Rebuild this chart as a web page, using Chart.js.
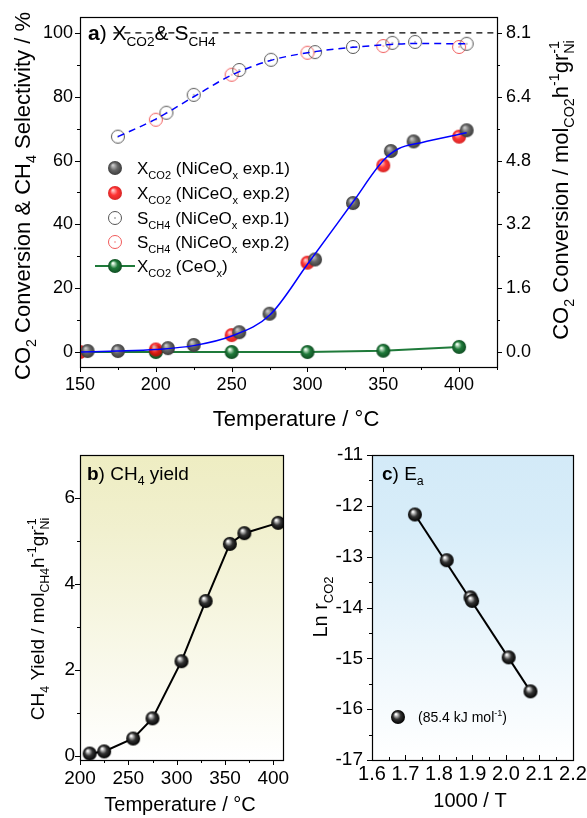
<!DOCTYPE html>
<html>
<head>
<meta charset="utf-8">
<script src="https://cdn.jsdelivr.net/npm/chart.js@4/dist/chart.umd.min.js"></script>
<style>
html, body { margin: 0; padding: 0; background: #fff; }
#wrap { position: relative; width: 587px; height: 818px; }
canvas { position: absolute; }
</style>
</head>
<body>
<div id="wrap">
  <canvas id="chartA" width="587" height="430" style="left:0;top:0"></canvas>
  <canvas id="chartB" width="293" height="388" style="left:0;top:430px"></canvas>
  <canvas id="chartC" width="294" height="388" style="left:293px;top:430px"></canvas>
</div>
<script>
// --- panel a : conversion & selectivity vs temperature
const tempX1 = [155, 175, 208, 225, 255, 275, 305, 330, 355, 370, 405];
const convX1 = [0.3, 0.3, 1.2, 2.2, 6.2, 12, 29, 46.7, 63, 66, 69.5];
const tempX2 = [150, 200, 250, 300, 350, 400];
const convX2 = [0, 0.8, 5.3, 28, 58.5, 67.5];
const tempS1 = [175, 207, 225, 255, 276, 305, 330, 356, 371, 405];
const selS1 = [67.5, 75, 80.6, 88.4, 91.6, 94, 95.6, 96.9, 97.2, 96.6];
const tempS2 = [200, 250, 300, 350, 400];
const selS2 = [72.8, 86.9, 93.8, 95.9, 95.6];
const tempCe = [150, 200, 250, 300, 350, 400];
const convCe = [0, 0, 0, 0, 0.4, 1.6];
const fitXT = [150, 175, 200, 225, 250, 275, 300, 330, 350, 360, 375, 405];
const fitXV = [0, 0.3, 0.8, 2, 5, 11.5, 27.5, 47, 60, 63.7, 65.6, 68.7];
const fitST = [175, 200, 225, 250, 275, 300, 330, 355, 370, 405];
const fitSV = [67.5, 73, 80, 86.8, 91.3, 93.8, 95.5, 96.4, 96.7, 96.6];
const refT = [172, 425];
const refV = [100, 100];
const aXTicks = [150, 200, 250, 300, 350, 400];
const aXMinor = [175, 225, 275, 325, 375, 425];
const aYTicks = [0, 20, 40, 60, 80, 100];
const aYMinor = [10, 30, 50, 70, 90];
const aRightLabels = ['0.0', '1.6', '3.2', '4.8', '6.4', '8.1'];

// --- panel b : CH4 yield
const tempY = [210, 225, 255, 275, 305, 330, 355, 370, 405];
const yieldCH4 = [0.05, 0.1, 0.4, 0.87, 2.2, 3.6, 4.93, 5.18, 5.42];
const bXTicks = [200, 250, 300, 350, 400];
const bXMinor = [225, 275, 325, 375];
const bYTicks = [0, 2, 4, 6];
const bYMinor = [1, 3, 5];

// --- panel c : Arrhenius plot
const invT = [1.728, 1.823, 1.894, 1.899, 2.008, 2.073];
const lnR = [-12.17, -13.07, -13.8, -13.87, -14.98, -15.65];
const fitInvT = [1.728, 2.073];
const fitLnR = [-12.17, -15.65];
const cXTicks = [1.6, 1.7, 1.8, 1.9, 2.0, 2.1, 2.2];
const cXMinor = [1.65, 1.75, 1.85, 1.95, 2.05, 2.15];
const cYTicks = [-17, -16, -15, -14, -13, -12, -11];
const cYMinor = [-16.5, -15.5, -14.5, -13.5, -12.5, -11.5];

const FONT = '"Liberation Sans", Arial, sans-serif';
const xy = (xs, ys) => xs.map((x, i) => ({ x, y: ys[i] }));

// shaded ball markers
function sphere(r, hi, mid, edge, alpha) {
  const c = document.createElement('canvas');
  c.width = c.height = 2 * r + 2;
  const g = c.getContext('2d'), m = r + 1;
  const grad = g.createRadialGradient(m - r * 0.3, m - r * 0.4, r * 0.08, m, m, r);
  grad.addColorStop(0, hi);
  grad.addColorStop(0.5, mid);
  grad.addColorStop(1, edge);
  g.globalAlpha = alpha || 1;
  g.fillStyle = grad;
  g.beginPath(); g.arc(m, m, r, 0, Math.PI * 2); g.fill();
  return c;
}
function ring(r, color) {
  const c = document.createElement('canvas');
  c.width = c.height = 2 * r + 2;
  const g = c.getContext('2d'), m = r + 1;
  g.strokeStyle = color; g.lineWidth = 1;
  g.beginPath(); g.arc(m, m, r - 0.5, 0, Math.PI * 2); g.stroke();
  g.fillStyle = color;
  g.beginPath(); g.arc(m, m, 0.7, 0, Math.PI * 2); g.fill();
  return c;
}
const grayBall = sphere(7, '#c8c8c8', '#666', '#3c3c3c');
const redBall = sphere(7, '#ffc0c0', '#ff1010', '#d00000', 0.85);
const greenBall = sphere(7, '#f0fff0', '#1f7a3a', '#0f4d22');
const blackBall = sphere(7, '#ffffff', '#333', '#000');
const blackBallC = sphere(7, '#ffffff', '#333', '#000');
const grayRing = ring(7, '#555');
const redRing = ring(7, '#f05a5a');

// text with sub / superscripts
function setFont(ctx, size, bold) { ctx.font = (bold ? 'bold ' : '') + size + 'px ' + FONT; }
function partWidth(ctx, p, size) {
  const small = size * 0.65;
  if (p[1] === 'ss') {
    setFont(ctx, small);
    return Math.max(ctx.measureText(p[0][0]).width, ctx.measureText(p[0][1]).width);
  }
  setFont(ctx, (p[1] === 'sub' || p[1] === 'sup') ? small : size, p[1] === 'b');
  return ctx.measureText(p[0]).width;
}
function drawRich(ctx, parts, x, y, size, align) {
  ctx.save();
  ctx.fillStyle = '#000'; ctx.textBaseline = 'alphabetic'; ctx.textAlign = 'left';
  let w = 0;
  parts.forEach(p => { w += partWidth(ctx, p, size); });
  let cx = align === 'center' ? x - w / 2 : x;
  parts.forEach(p => {
    const pw = partWidth(ctx, p, size);
    if (p[1] === 'ss') {
      ctx.fillText(p[0][0], cx, y - size * 0.42);
      ctx.fillText(p[0][1], cx, y + size * 0.28);
    } else {
      const dy = p[1] === 'sub' ? size * 0.28 : p[1] === 'sup' ? -size * 0.42 : 0;
      ctx.fillText(p[0], cx, y + dy);
    }
    cx += pw;
  });
  ctx.restore();
}
function drawRotated(ctx, parts, x, y, size) {
  ctx.save();
  ctx.translate(x, y); ctx.rotate(-Math.PI / 2);
  drawRich(ctx, parts, 0, 0, size, 'center');
  ctx.restore();
}

// frame, gradient background, major + minor ticks
function tickMarks(ctx, scale, vals, len, inward) {
  const a = scale.chart.chartArea;
  vals.forEach(v => {
    const p = Math.round(scale.getPixelForValue(v)) + 0.5;
    ctx.beginPath();
    if (scale.position === 'bottom') {
      ctx.moveTo(p, a.bottom); ctx.lineTo(p, inward ? a.bottom - len : a.bottom + len);
    } else if (scale.position === 'left') {
      ctx.moveTo(a.left, p); ctx.lineTo(inward ? a.left + len : a.left - len, p);
    } else {
      ctx.moveTo(a.right, p); ctx.lineTo(inward ? a.right - len : a.right + len, p);
    }
    ctx.stroke();
  });
}
const framePlugin = {
  id: 'frame',
  beforeDraw(chart, args, o) {
    if (!o.bg) return;
    const a = chart.chartArea, ctx = chart.ctx;
    const g = ctx.createLinearGradient(0, a.top, 0, a.bottom);
    g.addColorStop(0, o.bg); g.addColorStop(0.25, o.bg2 || o.bg); g.addColorStop(1, '#ffffff');
    ctx.save(); ctx.fillStyle = g;
    ctx.fillRect(a.left, a.top, a.right - a.left, a.bottom - a.top);
    ctx.restore();
  },
  afterDraw(chart, args, o) {
    const a = chart.chartArea, ctx = chart.ctx;
    ctx.save();
    ctx.strokeStyle = '#000'; ctx.lineWidth = 1.2;
    ctx.strokeRect(Math.round(a.left) + 0.5, Math.round(a.top) + 0.5,
      Math.round(a.right - a.left), Math.round(a.bottom - a.top));
    ctx.lineWidth = 1;
    (o.ticks || []).forEach(t => {
      const s = chart.scales[t.id];
      tickMarks(ctx, s, t.major, 5, t.inward);
      tickMarks(ctx, s, t.minor, 3, t.inward);
    });
    ctx.restore();
    if (o.text) o.text(ctx, chart);
  }
};

function axis(pos, min, max, ticks, size, fontSize, padding, extra) {
  const horiz = pos === 'bottom';
  return Object.assign({
    type: 'linear', position: pos, min, max,
    afterBuildTicks: s => { s.ticks = ticks.map(v => ({ value: v })); },
    afterFit: s => {
      if (horiz) s.height = size; else s.width = size;
      s.paddingTop = s.paddingBottom = s.paddingLeft = s.paddingRight = 0;
    },
    grid: { display: false, drawTicks: false },
    border: { display: false },
    ticks: { color: '#000', font: { family: FONT, size: fontSize }, padding, maxRotation: 0, autoSkip: false, callback: v => String(v) }
  }, extra || {});
}
const baseOpts = {
  responsive: false, animation: false,
  events: [],
};

// ---------------- panel a
new Chart(document.getElementById('chartA'), {
  type: 'scatter',
  data: {
    datasets: [
      { data: xy(fitXT, fitXV), showLine: true, borderColor: '#0000ff', borderWidth: 1.5, pointRadius: 0, cubicInterpolationMode: 'monotone', order: 0 },
      { data: xy(fitST, fitSV), showLine: true, borderColor: '#0000ff', borderWidth: 1.5, borderDash: [7, 5], pointRadius: 0, cubicInterpolationMode: 'monotone', order: 1 },
      { data: xy(tempX1, convX1), pointStyle: grayBall, pointRadius: 7, order: 2 },
      { data: xy(tempX2, convX2), pointStyle: redBall, pointRadius: 7, order: 3 },
      { data: xy(tempS1, selS1), pointStyle: grayRing, pointRadius: 7, order: 4 },
      { data: xy(tempS2, selS2), pointStyle: redRing, pointRadius: 7, order: 5 },
      { data: xy(tempCe, convCe), showLine: true, borderColor: '#1f7a3a', borderWidth: 2, pointStyle: greenBall, pointRadius: [0, 7, 7, 7, 7, 7], order: 6 },
      { data: xy(refT, refV), showLine: true, borderColor: '#000', borderWidth: 1.2, borderDash: [6, 5], pointRadius: 0, order: 7 }
    ]
  },
  options: Object.assign({}, baseOpts, {
    layout: { padding: { top: 17, left: 0, right: 0, bottom: 0 } },
    scales: {
      x: axis('bottom', 150, 425, aXTicks, 63, 18, 7),
      y: axis('left', -4.7, 105, aYTicks, 80, 18, 7),
      y2: axis('right', -4.7, 105, aYTicks, 90, 18, 9, {
        ticks: { color: '#000', font: { family: FONT, size: 18 }, padding: 9, autoSkip: false, callback: v => aRightLabels[aYTicks.indexOf(v)] }
      })
    },
    plugins: {
      legend: { display: false }, tooltip: { enabled: false },
      frame: {
        ticks: [
          { id: 'x', major: aXTicks, minor: aXMinor },
          { id: 'y', major: aYTicks, minor: aYMinor },
          { id: 'y2', major: aYTicks, minor: aYMinor }
        ],
        text: (ctx) => {
          drawRich(ctx, [['a', 'b'], [') X', ''], ['CO2', 'sub'], ['& S', ''], ['CH4', 'sub']], 88, 40, 21);
          drawRotated(ctx, [['CO', ''], ['2', 'sub'], [' Conversion & CH', ''], ['4', 'sub'], [' Selectivity / %', '']], 30, 196, 22);
          drawRotated(ctx, [['CO', ''], ['2', 'sub'], [' Conversion / mol', ''], ['CO2', 'sub'], ['h', ''], ['-1', 'sup'], ['gr', ''], [['-1', 'Ni'], 'ss']], 568, 190, 22);
          drawRich(ctx, [['Temperature / °C', '']], 296, 426, 22, 'center');
          // legend
          const items = [
            [grayBall, [['X', ''], ['CO2', 'sub'], [' (NiCeO', ''], ['x', 'sub'], [' exp.1)', '']]],
            [redBall, [['X', ''], ['CO2', 'sub'], [' (NiCeO', ''], ['x', 'sub'], [' exp.2)', '']]],
            [grayRing, [['S', ''], ['CH4', 'sub'], [' (NiCeO', ''], ['x', 'sub'], [' exp.1)', '']]],
            [redRing, [['S', ''], ['CH4', 'sub'], [' (NiCeO', ''], ['x', 'sub'], [' exp.2)', '']]],
            [greenBall, [['X', ''], ['CO2', 'sub'], [' (CeO', ''], ['x', 'sub'], [')', '']]]
          ];
          const ly = [168, 193, 218, 242, 266];
          items.forEach((it, i) => {
            if (it[0] === greenBall) {
              ctx.save(); ctx.strokeStyle = '#1f7a3a'; ctx.lineWidth = 2;
              ctx.beginPath(); ctx.moveTo(95, ly[i]); ctx.lineTo(135, ly[i]); ctx.stroke(); ctx.restore();
            }
            ctx.drawImage(it[0], 115 - it[0].width / 2, ly[i] - it[0].height / 2);
            drawRich(ctx, it[1], 137, ly[i] + 6, 17);
          });
        }
      }
    }
  }),
  plugins: [framePlugin]
});

// ---------------- panel b
new Chart(document.getElementById('chartB'), {
  type: 'scatter',
  data: {
    datasets: [
      { data: xy(tempY, yieldCH4), showLine: true, borderColor: '#000', borderWidth: 2, pointStyle: blackBall, pointRadius: 7 }
    ]
  },
  options: Object.assign({}, baseOpts, {
    layout: { padding: { top: 25, left: 0, right: 10, bottom: 0 } },
    scales: {
      x: axis('bottom', 200, 410, bXTicks, 58, 19, 7),
      y: axis('left', -0.1, 7, bYTicks, 80, 19, 5)
    },
    plugins: {
      legend: { display: false }, tooltip: { enabled: false },
      frame: {
        bg: '#eeedc2', bg2: '#f1f0cf',
        ticks: [
          { id: 'x', major: bXTicks, minor: bXMinor },
          { id: 'y', major: bYTicks, minor: bYMinor }
        ],
        text: (ctx) => {
          drawRich(ctx, [['b', 'b'], [') CH', ''], ['4', 'sub'], [' yield', '']], 87, 50, 19);
          drawRotated(ctx, [['CH', ''], ['4', 'sub'], [' Yield / mol', ''], ['CH4', 'sub'], ['h', ''], ['-1', 'sup'], ['gr', ''], [['-1', 'Ni'], 'ss']], 44, 189, 19);
          drawRich(ctx, [['Temperature / °C', '']], 180, 381, 20, 'center');
        }
      }
    }
  }),
  plugins: [framePlugin]
});

// ---------------- panel c
new Chart(document.getElementById('chartC'), {
  type: 'scatter',
  data: {
    datasets: [
      { data: xy(fitInvT, fitLnR), showLine: true, borderColor: '#000', borderWidth: 2, pointRadius: 0, order: 1 },
      { data: xy(invT, lnR), pointStyle: blackBallC, pointRadius: 7, order: 0 }
    ]
  },
  options: Object.assign({}, baseOpts, {
    layout: { padding: { top: 25, left: 0, right: 14, bottom: 0 } },
    scales: {
      x: axis('bottom', 1.6, 2.2, cXTicks, 58, 20, 2, {
        ticks: { color: '#000', font: { family: FONT, size: 20 }, padding: 2, maxRotation: 0, autoSkip: false, callback: v => v.toFixed(1) }
      }),
      y: axis('left', -17, -11, cYTicks, 79, 19, 9)
    },
    plugins: {
      legend: { display: false }, tooltip: { enabled: false },
      frame: {
        bg: '#d3eaf8', bg2: '#d8edf9',
        ticks: [
          { id: 'x', major: cXTicks, minor: cXMinor, inward: true },
          { id: 'y', major: cYTicks, minor: cYMinor }
        ],
        text: (ctx) => {
          drawRich(ctx, [['c', 'b'], [') E', ''], ['a', 'sub']], 89, 50, 19);
          drawRotated(ctx, [['Ln r', ''], ['CO2', 'sub']], 34, 177, 20);
          drawRich(ctx, [['1000 / T', '']], 177, 377, 20, 'center');
          ctx.drawImage(blackBallC, 105 - blackBallC.width / 2, 287 - blackBallC.height / 2);
          drawRich(ctx, [['(85.4 kJ mol', ''], ['-1', 'sup'], [')', '']], 125, 292, 14);
        }
      }
    }
  }),
  plugins: [framePlugin]
});
</script>
</body>
</html>
